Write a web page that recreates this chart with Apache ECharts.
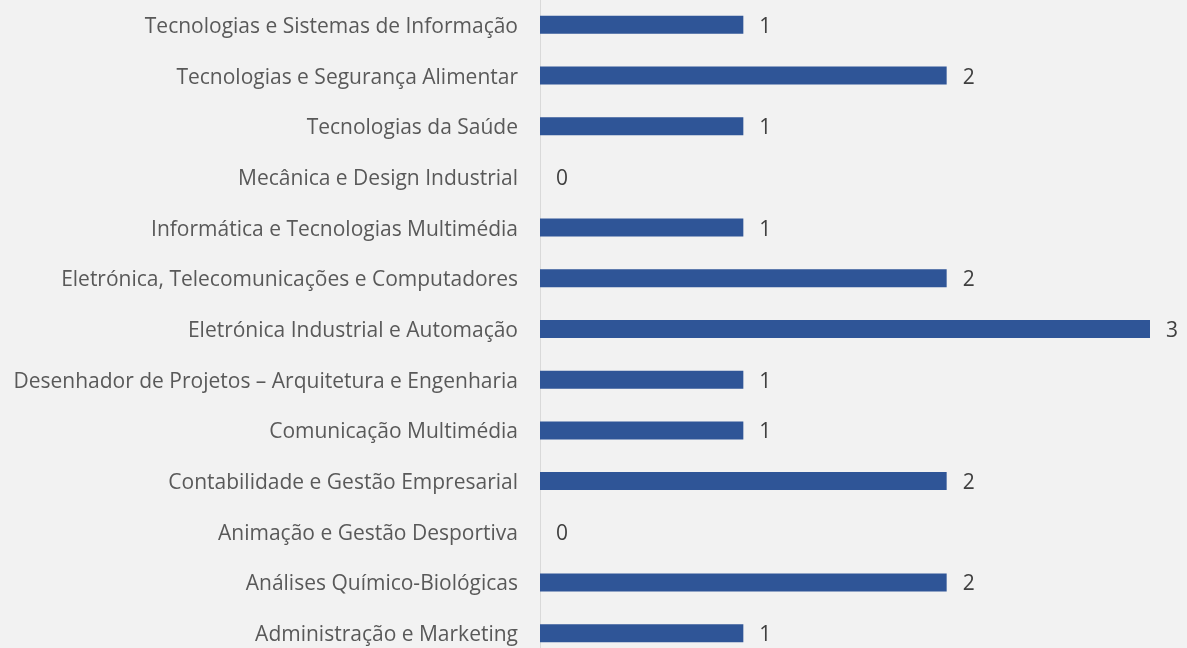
<!DOCTYPE html>
<html>
<head>
<meta charset="utf-8">
<script src="https://cdn.jsdelivr.net/npm/echarts@6/dist/echarts.min.js"></script>
<style>
html,body{margin:0;padding:0;background:#f2f2f2;}
#chart{width:1187px;height:648px;}
</style>
</head>
<body>
<div id="chart"></div>
<script>
const categories = [
  "Tecnologias e Sistemas de Informação",
  "Tecnologias e Segurança Alimentar",
  "Tecnologias da Saúde",
  "Mecânica e Design Industrial",
  "Informática e Tecnologias Multimédia",
  "Eletrónica, Telecomunicações e Computadores",
  "Eletrónica Industrial e Automação",
  "Desenhador de Projetos – Arquitetura e Engenharia",
  "Comunicação Multimédia",
  "Contabilidade e Gestão Empresarial",
  "Animação e Gestão Desportiva",
  "Análises Químico-Biológicas",
  "Administração e Marketing"
];
const values = [1, 2, 1, 0, 1, 2, 3, 1, 1, 2, 0, 2, 1];

const chart = echarts.init(document.getElementById('chart'), null, {renderer: 'canvas'});
const FONT = '"Open Sans", sans-serif';
chart.setOption({
  backgroundColor: '#f2f2f2',
  animation: false,
  grid: {left: 540, width: 610, top: -0.5, height: 659, containLabel: false, outerBoundsMode: 'none'},
  xAxis: {
    type: 'value', min: 0, max: 3,
    show: false
  },
  yAxis: {
    type: 'category',
    data: categories,
    inverse: true,
    axisLine: {show: true, lineStyle: {color: '#d9d9d9', width: 1}},
    axisTick: {show: false},
    axisLabel: {
      margin: 22,
      formatter: '{a|{value}}',
      rich: {a: {color: '#595959', fontSize: 21, fontFamily: FONT, padding: [4, 0, 0, 0]}}
    }
  },
  series: [{
    type: 'bar',
    data: values,
    barWidth: 18,
    itemStyle: {color: '#2f5597'},
    label: {show: true, position: 'right', distance: 16, offset: [0, 2], color: '#404040', fontSize: 21, fontFamily: FONT}
  }]
});
</script>
</body>
</html>
